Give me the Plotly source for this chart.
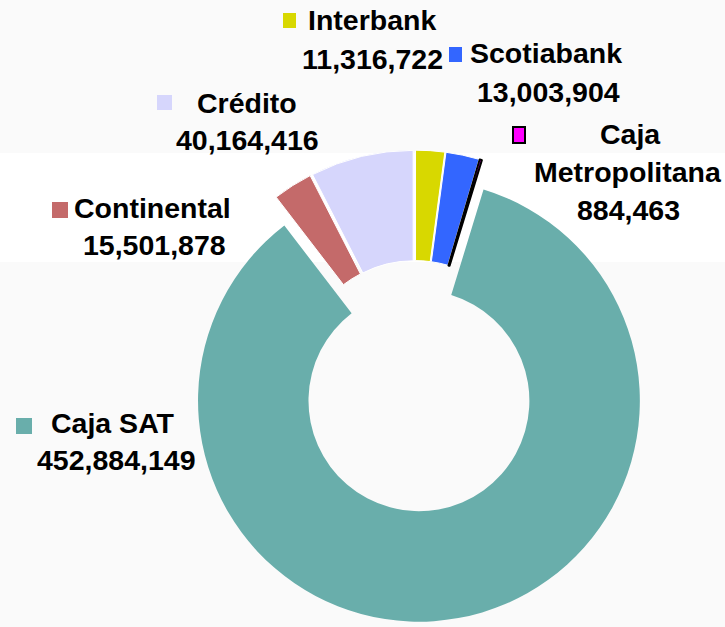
import plotly.graph_objects as go

# ---- data ----
banks = ["Interbank", "Scotiabank", "Caja Metropolitana", "Caja SAT", "Continental", "Crédito"]
values = [11316722, 13003904, 884463, 452884149, 15501878, 40164416]
value_labels = ["11,316,722", "13,003,904", "884,463", "452,884,149", "15,501,878", "40,164,416"]

# ---- styles ----
colors = ["#d8d800", "#3366ff", "#ff00ff", "#69aeab", "#c46a6a", "#d6d6fc"]
line_colors = ["#ffffff", "#ffffff", "#000000", "#ffffff", "#ffffff", "#ffffff"]
line_widths = [1, 1, 2, 0, 1, 1]
pulls = [0.036, 0.036, 0.036, 0.1, 0.036, 0.036]

W, H = 725, 627
CX, CY, HALF = 415, 379, 243

def px(x):
    return x / W

def py(y):
    return 1 - y / H

fig = go.Figure()
fig.add_trace(go.Pie(
    labels=banks,
    values=values,
    hole=0.5,
    sort=False,
    direction="clockwise",
    rotation=0,
    pull=pulls,
    textinfo="none",
    marker=dict(colors=colors, line=dict(color=line_colors, width=line_widths)),
    domain=dict(x=[px(CX - HALF), px(CX + HALF)], y=[py(CY + HALF), py(CY - HALF)]),
    showlegend=False,
))

font = dict(family="Liberation Sans, Arial, sans-serif", size=28.5, color="#000000")

# label layout: (bank index, marker box, list of (text, cx, cy))
label_layout = [
    (0, (283, 13, 296, 28), [(banks[0], 372, 20), (value_labels[0], 372, 59)]),
    (1, (449, 47, 462, 62), [(banks[1], 546, 53), (value_labels[1], 548, 92)]),
    (2, (513, 127, 525, 143), [("Caja", 630, 134), ("Metropolitana", 628, 172), (value_labels[2], 628, 210)]),
    (5, (157, 95, 172, 110), [(banks[5], 247, 103), (value_labels[5], 247, 140)]),
    (4, (52, 202, 68, 218), [(banks[4], 152, 208), (value_labels[4], 154, 245)]),
    (3, (16, 418, 32, 434), [(banks[3], 113, 423), (value_labels[3], 116, 460)]),
]

shapes = [
    dict(type="rect", xref="paper", yref="paper", x0=0, x1=1, y0=py(262), y1=py(153),
         fillcolor="#ffffff", line=dict(width=0), layer="below"),
]
annotations = []
for idx, (x0, y0, x1, y1), lines in label_layout:
    shapes.append(dict(type="rect", xref="paper", yref="paper",
                       x0=px(x0), x1=px(x1), y0=py(y1), y1=py(y0),
                       fillcolor=colors[idx],
                       line=dict(color="#000000" if idx == 2 else colors[idx], width=2 if idx == 2 else 0)))
    for text, cx, cy in lines:
        annotations.append(dict(text="<b>%s</b>" % text, x=px(cx), y=py(cy), xref="paper", yref="paper",
                                xanchor="center", yanchor="middle", showarrow=False, font=font))

fig.update_layout(
    width=W, height=H,
    margin=dict(l=0, r=0, t=0, b=0),
    paper_bgcolor="#fafafa",
    plot_bgcolor="#fafafa",
    shapes=shapes,
    annotations=annotations,
)

fig.write_html("out.html", config={"displayModeBar": False},
               post_script="document.body.style.margin='0';")
